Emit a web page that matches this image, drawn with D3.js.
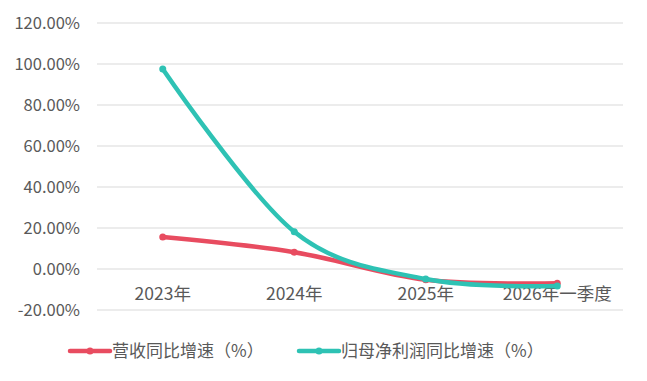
<!DOCTYPE html>
<html><head><meta charset="utf-8">
<script src="https://cdn.jsdelivr.net/npm/d3@7"></script>
<style>body{margin:0;background:#fff}svg{display:block}</style>
</head><body><svg id="c" width="647" height="381"></svg>
<script>
const categories = ["2023年", "2024年", "2025年", "2026年一季度"];
const revenueGrowth = [15.6, 8.2, -5.2, -7.0];
const profitGrowth = [97.6, 18.2, -4.9, -8.3];
const yTicks = [-20, 0, 20, 40, 60, 80, 100, 120];
const seriesNames = ["营收同比增速（%）", "归母净利润同比增速（%）"];
const colors = ["#E84C60", "#2EC2B4"];

const svg = d3.select("#c");
const x = d3.scaleBand().domain(categories).range([97, 623]);
const y = d3.scaleLinear().domain([-20, 120]).range([310, 23]);
const font = "'Noto Sans CJK SC', 'Liberation Sans', sans-serif";

svg.append("g").selectAll("line").data(yTicks).join("line")
  .attr("x1", 97).attr("x2", 623)
  .attr("y1", d => y(d)).attr("y2", d => y(d))
  .attr("stroke", "#d9d9d9").attr("stroke-width", 1);

svg.append("g").selectAll("text").data(yTicks).join("text")
  .attr("x", 80).attr("y", d => y(d)).attr("dy", "0.35em")
  .attr("text-anchor", "end").attr("fill", "#595959")
  .style("font-family", font).style("font-size", "16.5px")
  .text(d => d.toFixed(2) + "%");

svg.append("g").selectAll("text").data(categories).join("text")
  .attr("x", d => x(d) + x.bandwidth() / 2).attr("y", 300)
  .attr("text-anchor", "middle").attr("fill", "#595959")
  .style("font-family", font).style("font-size", "17.5px")
  .text(d => d);

const line = d3.line()
  .x((d, i) => x(categories[i]) + x.bandwidth() / 2)
  .y(d => y(d))
  .curve(d3.curveCatmullRom.alpha(0));

[revenueGrowth, profitGrowth].forEach((s, k) => {
  svg.append("path").datum(s).attr("d", line)
    .attr("fill", "none").attr("stroke", colors[k]).attr("stroke-width", 4.5)
    .attr("stroke-linecap", "round");
  svg.append("g").selectAll("circle").data(s).join("circle")
    .attr("cx", (d, i) => x(categories[i]) + x.bandwidth() / 2)
    .attr("cy", d => y(d)).attr("r", 3.5).attr("fill", colors[k]);
});

const legX = [70, 299];
seriesNames.forEach((n, k) => {
  const g = svg.append("g");
  g.append("line").attr("x1", legX[k]).attr("x2", legX[k] + 40)
    .attr("y1", 351).attr("y2", 351).attr("stroke", colors[k])
    .attr("stroke-width", 4.5).attr("stroke-linecap", "round");
  g.append("circle").attr("cx", legX[k] + 20).attr("cy", 351).attr("r", 3.5).attr("fill", colors[k]);
  g.append("text").attr("x", legX[k] + 42).attr("y", 351).attr("dy", "0.35em")
    .attr("fill", "#595959").style("font-family", font).style("font-size", "17px")
    .text(n);
});
</script></body></html>
